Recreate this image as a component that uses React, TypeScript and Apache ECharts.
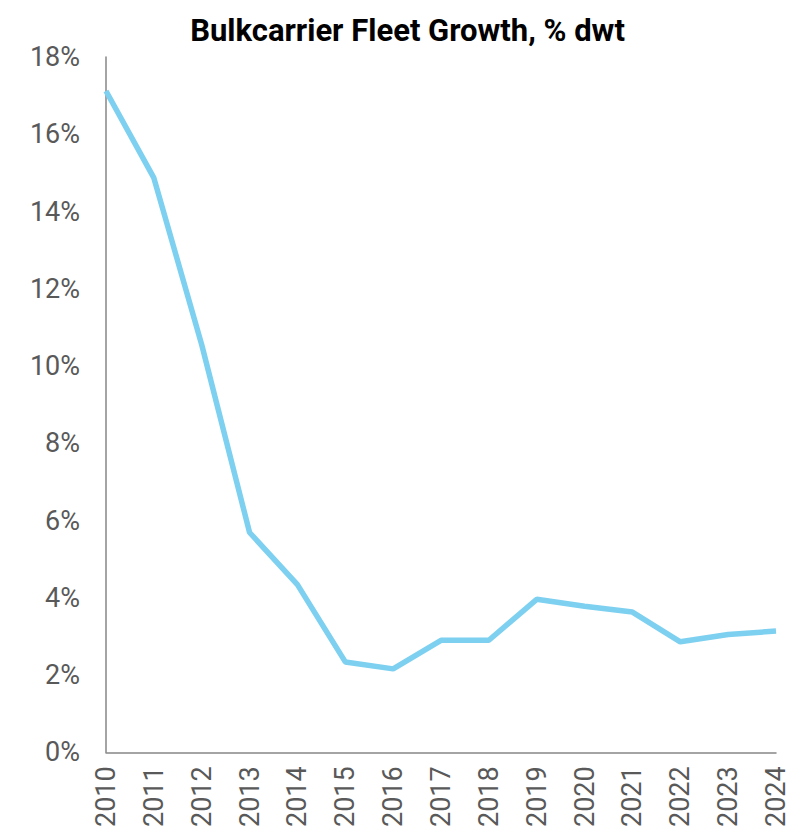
import React, { useEffect, useRef } from "react";
import * as echarts from "echarts";

const years = ["2010","2011","2012","2013","2014","2015","2016","2017","2018","2019","2020","2021","2022","2023","2024"];
const growth = [17.12, 14.87, 10.55, 5.69, 4.34, 2.34, 2.16, 2.9, 2.9, 3.96, 3.78, 3.63, 2.86, 3.05, 3.14];
const titleText = "Bulkcarrier Fleet Growth, % dwt";

export default function App() {
  const ref = useRef<HTMLDivElement>(null);
  useEffect(() => {
    const chart = echarts.init(ref.current!, null, { renderer: "svg" });
    chart.setOption({
      animation: false,
      title: {
        text: titleText,
        left: "center",
        top: 4,
        padding: [0, 5, 0, 5],
        textStyle: { fontFamily: "Roboto", fontWeight: "bold", fontSize: 31, lineHeight: 36, color: "#000" },
      },
      grid: { left: 98, right: 31, top: 49, bottom: 77, containLabel: false },
      xAxis: {
        type: "category",
        data: years,
        boundaryGap: false,
        axisLine: { lineStyle: { color: "#868686", width: 1.5 } },
        axisTick: { show: false },
        axisLabel: { rotate: 90, margin: 14, fontFamily: "Roboto", fontSize: 27, color: "#595959" },
      },
      yAxis: {
        type: "value",
        min: 0,
        max: 18,
        interval: 2,
        axisLine: { show: true, lineStyle: { color: "#868686", width: 1.5 } },
        axisTick: { show: false },
        splitLine: { show: false },
        axisLabel: { margin: 26, fontFamily: "Roboto", fontSize: 27, color: "#595959", formatter: (v: number) => v + "%" },
      },
      series: [
        {
          type: "line",
          data: growth,
          symbol: "none",
          lineStyle: { color: "#7DD0F0", width: 5.5 },
        },
      ],
    });
    return () => chart.dispose();
  }, []);
  return <div ref={ref} style={{ width: 799, height: 822 }} />;
}
